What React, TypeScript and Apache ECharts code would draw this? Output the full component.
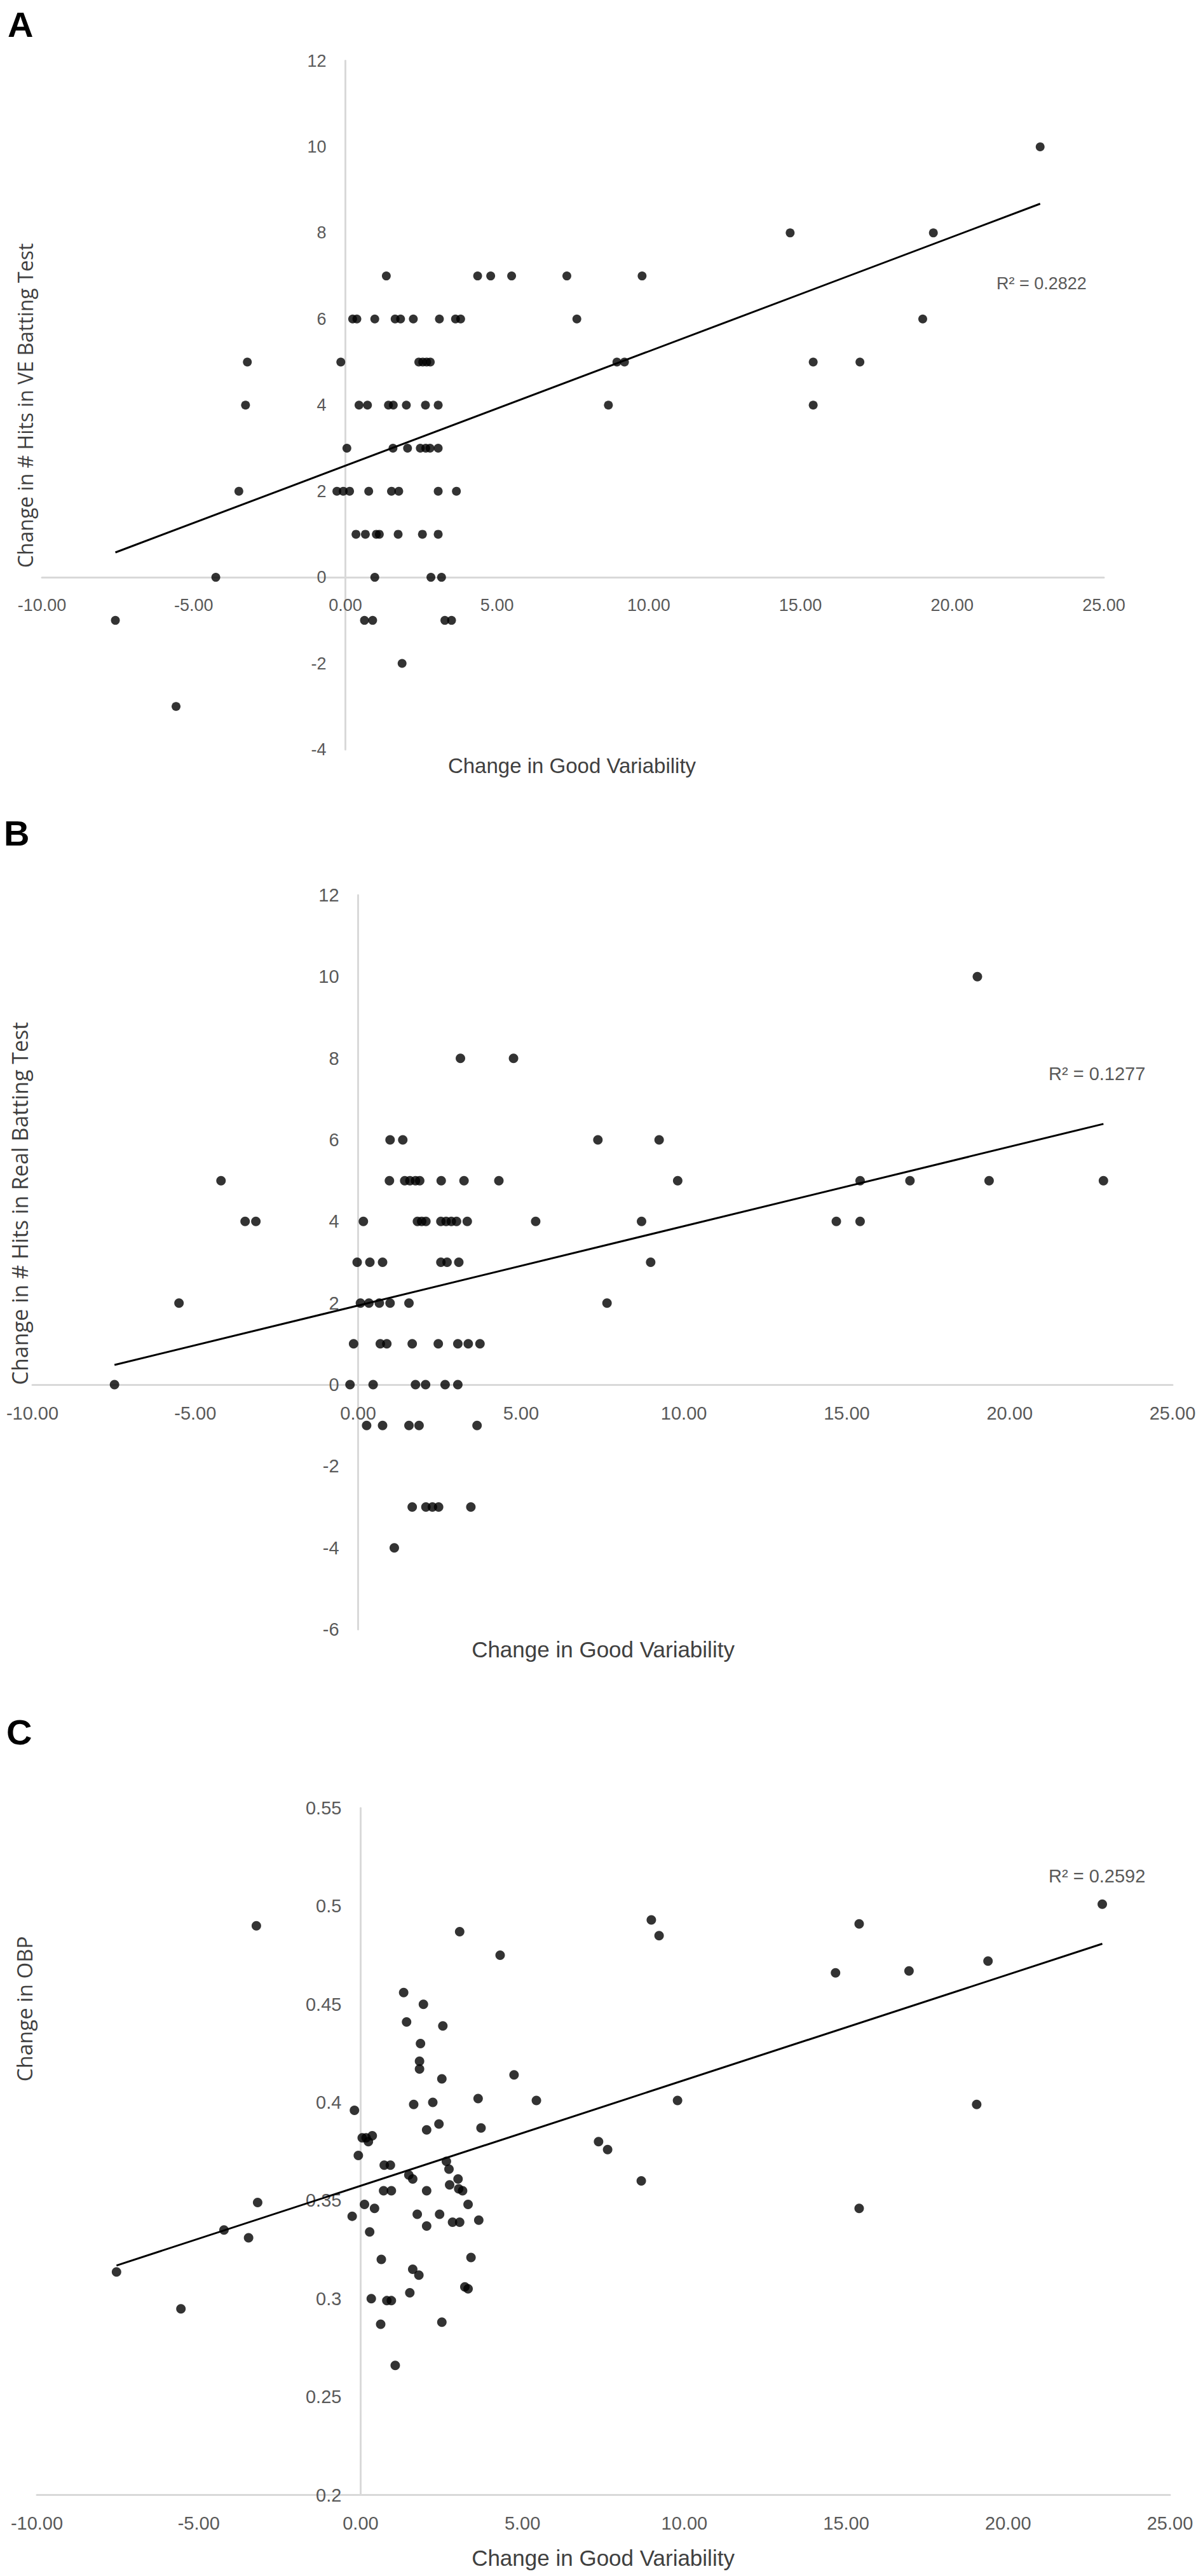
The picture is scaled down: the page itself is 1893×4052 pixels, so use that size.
import React, { useEffect, useRef } from "react";
import * as echarts from "echarts";

// ---------- Panel A: Change in # Hits in VE Batting Test ----------
const aX = [
  22.9,
  14.66, 19.38,
  1.35, 4.36, 4.79, 5.48, 7.3, 9.78,
  0.24, 0.38, 0.97, 1.64, 1.82, 2.24, 3.1, 3.63, 3.8, 7.63, 19.03,
  -3.23, -0.15, 2.42, 2.55, 2.68, 2.8, 8.95, 9.2, 15.42, 16.96,
  -3.29, 0.45, 0.73, 1.42, 1.58, 2.01, 2.64, 3.06, 8.67, 15.42,
  0.05, 1.57, 2.05, 2.47, 2.65, 2.79, 3.06,
  -3.51, -0.28, -0.07, 0.14, 0.77, 1.52, 1.76, 3.06, 3.66,
  0.35, 0.66, 1.02, 1.12, 1.74, 2.54, 3.06,
  -4.27, 0.97, 2.82, 3.17,
  -7.58, 0.63, 0.9, 3.28, 3.5,
  1.87,
  -5.58,
];
const aY = [
  10,
  8, 8,
  7, 7, 7, 7, 7, 7,
  6, 6, 6, 6, 6, 6, 6, 6, 6, 6, 6,
  5, 5, 5, 5, 5, 5, 5, 5, 5, 5,
  4, 4, 4, 4, 4, 4, 4, 4, 4, 4,
  3, 3, 3, 3, 3, 3, 3,
  2, 2, 2, 2, 2, 2, 2, 2, 2,
  1, 1, 1, 1, 1, 1, 1,
  0, 0, 0, 0,
  -1, -1, -1, -1, -1,
  -2,
  -3,
];

// ---------- Panel B: Change in # Hits in Real Batting Test ----------
const bX = [
  19.01,
  3.14, 4.77,
  0.98, 1.37, 7.36, 9.24,
  -4.21, 0.96, 1.43, 1.59, 1.76, 1.89, 2.55, 3.25, 4.32, 9.81, 15.41, 16.94, 19.37, 22.88,
  -3.47, -3.14, 0.16, 1.82, 1.95, 2.08, 2.54, 2.7, 2.86, 3.02, 3.35, 5.45, 8.7, 14.68, 15.41,
  -0.03, 0.36, 0.75, 2.54, 2.73, 3.09, 8.98,
  -5.5, 0.07, 0.33, 0.65, 0.98, 1.56, 7.64,
  -0.14, 0.68, 0.88, 1.66, 2.46, 3.06, 3.38, 3.74,
  -7.48, -0.25, 0.46, 1.76, 2.07, 2.67, 3.06,
  0.26, 0.75, 1.56, 1.87, 3.65,
  1.66, 2.08, 2.28, 2.47, 3.46,
  1.11,
];
const bY = [
  10,
  8, 8,
  6, 6, 6, 6,
  5, 5, 5, 5, 5, 5, 5, 5, 5, 5, 5, 5, 5, 5,
  4, 4, 4, 4, 4, 4, 4, 4, 4, 4, 4, 4, 4, 4, 4,
  3, 3, 3, 3, 3, 3, 3,
  2, 2, 2, 2, 2, 2, 2,
  1, 1, 1, 1, 1, 1, 1, 1,
  0, 0, 0, 0, 0, 0, 0,
  -1, -1, -1, -1, -1,
  -3, -3, -3, -3, -3,
  -4,
];

// ---------- Panel C: Change in OBP ----------
const cX = [
  -7.54, -5.55, -4.22, -3.46, -3.22, -3.18, -0.19, -0.26, -0.07, 0.05,
  0.17, 0.24, 0.36, 0.12, 0.28, 0.43, 0.33, 0.64, 0.62, 0.73,
  0.92, 0.71, 0.95, 0.81, 0.95, 1.07, 1.33, 1.42, 1.85, 1.82,
  1.82, 1.94, 2.54, 2.51, 1.64, 2.23, 2.42, 2.04, 1.49, 1.61,
  2.04, 1.75, 2.04, 2.44, 2.65, 2.73, 2.75, 3.01, 3.03, 3.15,
  3.32, 2.84, 3.06, 3.65, 3.41, 3.22, 3.32, 1.61, 1.8, 1.52,
  2.51, 3.06, 4.31, 3.63, 3.72, 4.74, 5.43, 7.35, 7.63, 8.67,
  8.98, 9.22, 9.79, 14.67, 15.4, 15.4, 16.94, 19.03, 19.38, 22.91,
];
const cY = [
  0.3136, 0.2948, 0.335, 0.331, 0.49, 0.349, 0.396, 0.342, 0.373, 0.382,
  0.382, 0.38, 0.383, 0.348, 0.334, 0.346, 0.3, 0.32, 0.287, 0.368,
  0.368, 0.355, 0.355, 0.299, 0.299, 0.266, 0.456, 0.441, 0.43, 0.421,
  0.417, 0.45, 0.439, 0.412, 0.399, 0.4, 0.389, 0.386, 0.363, 0.361,
  0.355, 0.343, 0.337, 0.343, 0.37, 0.366, 0.358, 0.361, 0.356, 0.355,
  0.348, 0.339, 0.339, 0.34, 0.321, 0.306, 0.305, 0.315, 0.312, 0.303,
  0.288, 0.487, 0.475, 0.402, 0.387, 0.414, 0.401, 0.38, 0.376, 0.36,
  0.493, 0.485, 0.401, 0.466, 0.491, 0.346, 0.467, 0.399, 0.472, 0.501,
];

const panelLetters = ["A", "B", "C"];
const yTitles = [
  "Change in # Hits in VE Batting Test",
  "Change in # Hits in Real Batting Test",
  "Change in OBP",
];
const xTitle = "Change in Good Variability";
const rSquared = ["0.2822", "0.1277", "0.2592"];

const xRange = { min: -10, max: 25, interval: 5 };
const yRanges = [
  { min: -4, max: 12, interval: 2 },
  { min: -6, max: 12, interval: 2 },
  { min: 0.2, max: 0.55, interval: 0.05 },
];

function trend(xs: number[], ys: number[]) {
  const n = xs.length;
  let mx = 0, my = 0;
  for (let i = 0; i < n; i++) { mx += xs[i]; my += ys[i]; }
  mx /= n; my /= n;
  let sxy = 0, sxx = 0;
  for (let i = 0; i < n; i++) {
    sxy += (xs[i] - mx) * (ys[i] - my);
    sxx += (xs[i] - mx) * (xs[i] - mx);
  }
  const b = sxy / sxx;
  const a = my - b * mx;
  const lo = Math.min(...xs);
  const hi = Math.max(...xs);
  return [[lo, a + b * lo], [hi, a + b * hi]];
}

const zip = (xs: number[], ys: number[]) => xs.map((x, i) => [x, ys[i]]);

export default function App() {
  const ref = useRef<HTMLDivElement>(null);
  useEffect(() => {
    if (!ref.current) return;
    const chart = echarts.init(ref.current, null, { renderer: "svg" });
    const grids = [
      { left: 66, top: 95.5, width: 1671, height: 1083.5 },
      { left: 51, top: 1408, width: 1794, height: 1155 },
      { left: 58, top: 2844, width: 1783, height: 1080.5 },
    ];
    const tickFont = [27, 29, 29];
    const sets = [zip(aX, aY), zip(bX, bY), zip(cX, cY)];
    const trends = [trend(aX, aY), trend(bX, bY), trend(cX, cY)];
    const axisLineStyle = { color: "#d9d9d9", width: 3 };

    // place each axis where the other axis is zero (Excel "axis crosses at 0")
    const yOffsets = grids.map((g) => {
      const frac = xRange.min < 0 ? (0 - xRange.min) / (xRange.max - xRange.min) : 0;
      return -g.width * frac;
    });
    const xOffsets = grids.map((g, i) => {
      const r = yRanges[i];
      const frac = r.min < 0 ? (0 - r.min) / (r.max - r.min) : 0;
      return -g.height * frac;
    });

    const xAxis = grids.map((_, i) => ({
      gridIndex: i,
      type: "value",
      position: "bottom",
      offset: xOffsets[i],
      min: xRange.min,
      max: xRange.max,
      interval: xRange.interval,
      axisLine: { show: true, onZero: false, lineStyle: axisLineStyle },
      axisTick: { show: false },
      splitLine: { show: false },
      axisLabel: {
        formatter: (v: number) => v.toFixed(2),
        color: "#595959",
        fontSize: tickFont[i],
        fontFamily: "Liberation Sans",
        margin: 30,
        showMinLabel: true,
        showMaxLabel: true,
        hideOverlap: false,
      },
    }));
    const yAxis = grids.map((_, i) => ({
      gridIndex: i,
      type: "value",
      position: "left",
      offset: yOffsets[i],
      min: yRanges[i].min,
      max: yRanges[i].max,
      interval: yRanges[i].interval,
      axisLine: { show: true, onZero: false, lineStyle: axisLineStyle },
      axisTick: { show: false },
      splitLine: { show: false },
      axisLabel: {
        formatter: (v: number) => String(Math.round(v * 100) / 100),
        color: "#595959",
        fontSize: tickFont[i],
        fontFamily: "Liberation Sans",
        margin: 30,
        showMinLabel: true,
        showMaxLabel: true,
        hideOverlap: false,
      },
    }));

    const series: any[] = [];
    sets.forEach((d, i) => {
      series.push({
        type: "scatter",
        xAxisIndex: i,
        yAxisIndex: i,
        data: d,
        symbol: "circle",
        symbolSize: i === 0 ? 14 : 15,
        itemStyle: { color: "#000000" },
        z: 3,
      });
      series.push({
        type: "line",
        xAxisIndex: i,
        yAxisIndex: i,
        data: trends[i],
        showSymbol: false,
        symbol: "none",
        lineStyle: { color: "#000000", width: 3 },
        z: 4,
      });
    });

    const letterPos = [
      { x: 12, y: 38 },
      { x: 6, y: 1310 },
      { x: 10, y: 2724 },
    ];
    const yTitlePos = [
      { x: 39, y: 638, size: 32 },
      { x: 31, y: 1893, size: 34 },
      { x: 38, y: 3160, size: 33 },
    ];
    const xTitlePos = [
      { x: 900, y: 1204, size: 33 },
      { x: 949, y: 2594, size: 35 },
      { x: 949, y: 4023, size: 35 },
    ];
    const rPos = [
      { x: 1568, y: 446, size: 27 },
      { x: 1650, y: 1689, size: 29 },
      { x: 1650, y: 2951, size: 29 },
    ];

    const graphic: any[] = [];
    for (let i = 0; i < 3; i++) {
      graphic.push({
        type: "text",
        x: letterPos[i].x,
        y: letterPos[i].y,
        style: {
          text: panelLetters[i],
          font: "bold 56px 'Liberation Sans'",
          fill: "#000000",
          align: "left",
          verticalAlign: "middle",
        },
      });
      graphic.push({
        type: "text",
        x: yTitlePos[i].x,
        y: yTitlePos[i].y,
        rotation: Math.PI / 2,
        style: {
          text: yTitles[i],
          font: `${yTitlePos[i].size}px 'Open Sans'`,
          fill: "#404040",
          align: "center",
          verticalAlign: "middle",
        },
      });
      graphic.push({
        type: "text",
        x: xTitlePos[i].x,
        y: xTitlePos[i].y,
        style: {
          text: xTitle,
          font: `${xTitlePos[i].size}px 'Liberation Sans'`,
          fill: "#404040",
          align: "center",
          verticalAlign: "middle",
        },
      });
      graphic.push({
        type: "text",
        x: rPos[i].x,
        y: rPos[i].y,
        style: {
          text: "R\u00B2 = " + rSquared[i],
          font: `${rPos[i].size}px 'Liberation Sans'`,
          fill: "#595959",
          align: "left",
          verticalAlign: "middle",
        },
      });
    }

    chart.setOption({
      animation: false,
      backgroundColor: "#ffffff",
      textStyle: { fontFamily: "Liberation Sans" },
      grid: grids,
      xAxis,
      yAxis,
      series,
      graphic,
    });
    return () => chart.dispose();
  }, []);

  return (
    <div
      ref={ref}
      style={{ position: "absolute", left: 0, top: 0, width: 1893, height: 4052, background: "#fff" }}
    />
  );
}
